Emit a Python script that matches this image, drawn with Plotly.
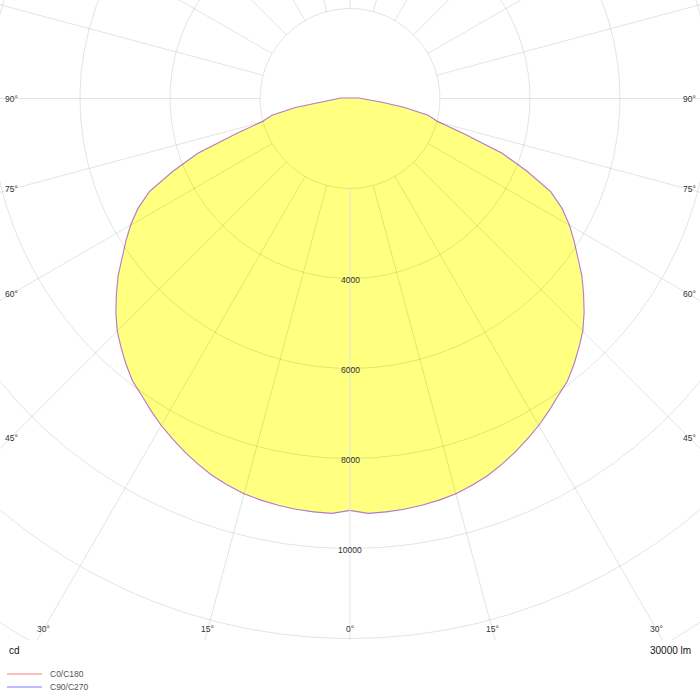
import numpy as np
import plotly.graph_objects as go

# ---------------- data ----------------
gamma_deg = [0, 2.5, 5, 7.5, 10, 12.5, 15, 17.5, 20, 22.5, 25, 27.5, 30, 32.5, 35,
             37.5, 40, 42.5, 45, 47.5, 50, 52.5, 55, 57.5, 60, 62.5, 65, 67.5, 70,
             72.5, 75, 77.5, 80, 82.5, 85, 87.5, 90]
c0_c180_cd = [9140, 9215, 9210, 9195, 9165, 9130, 9080, 9000, 8910, 8790, 8660, 8520,
              8375, 8215, 8050, 7915, 7720, 7510, 7300, 7040, 6760, 6480, 6165, 5890,
              5610, 5300, 4910, 4250, 3590, 2650, 2000, 1770, 1230, 690, 340, 250, 200]
c90_c270_cd = [9140, 9215, 9210, 9195, 9165, 9130, 9080, 9000, 8910, 8790, 8660, 8520,
               8375, 8215, 8050, 7915, 7720, 7510, 7300, 7040, 6760, 6480, 6165, 5890,
               5610, 5300, 4910, 4250, 3590, 2650, 2000, 1770, 1230, 690, 340, 250, 200]

ring_values = [2000, 4000, 6000, 8000, 10000, 12000, 14000, 16000]
ring_label_values = [4000, 6000, 8000, 10000]
spoke_angles = list(range(0, 360, 15))
angle_tick_values = [0, 15, 30, 45, 60, 75, 90]
angle_tick_labels = ["0°", "15°", "30°", "45°", "60°", "75°", "90°"]
series_names = ["C0/C180", "C90/C270"]
unit_label = "cd"
flux_label = "30000 lm"

# ---------------- geometry helpers ----------------
K = 2000.0 / 90.0            # cd per pixel
X_HALF = 350 * K
Y_TOP = 98.5 * K
Y_BOT = -541.5 * K
INSET = 11 * K


def curve_xy(right_vals, left_vals):
    g = np.radians(gamma_deg)
    rv = np.array(right_vals, float)
    lv = np.array(left_vals, float)
    xl = -lv[::-1] * np.sin(g[::-1])
    yl = -lv[::-1] * np.cos(g[::-1])
    xr = rv * np.sin(g)
    yr = -rv * np.cos(g)
    x = np.concatenate([xl, xr[1:], xl[:1]])
    y = np.concatenate([yl, yr[1:], yl[:1]])
    return x, y


fig = go.Figure()

# light curves (drawn first, the fill covers their inner half)
line_cols = ["rgba(255,0,0,0.3)", "rgba(0,0,255,0.3)"]
for name, vals, col in zip(series_names, [c0_c180_cd, c90_c270_cd], line_cols):
    x, y = curve_xy(vals, vals)
    fig.add_trace(go.Scatter(x=x, y=y, mode="lines", name=name,
                             line=dict(color=col, width=2.2),
                             hoverinfo="skip", showlegend=False))

# yellow fill
xf, yf = curve_xy(c0_c180_cd, c0_c180_cd)
fig.add_trace(go.Scatter(x=xf, y=yf, mode="lines", fill="toself", fillcolor="#ffff80",
                         line=dict(width=0, color="rgba(0,0,0,0)"),
                         hoverinfo="skip", showlegend=False))

# grid circles
th = np.linspace(0, 2 * np.pi, 721)
cx, cy = [], []
for r in ring_values:
    cx += list(r * np.sin(th)) + [None]
    cy += list(-r * np.cos(th)) + [None]
fig.add_trace(go.Scatter(x=cx, y=cy, mode="lines",
                         line=dict(color="rgba(0,0,0,0.11)", width=1),
                         hoverinfo="skip", showlegend=False))

# grid spokes
sx, sy = [], []
r0, r1 = ring_values[0], 20000
for a in spoke_angles:
    if a == 0:
        continue
    t = np.radians(a)
    sx += [r0 * np.sin(t), r1 * np.sin(t), None]
    sy += [-r0 * np.cos(t), -r1 * np.cos(t), None]
fig.add_trace(go.Scatter(x=sx, y=sy, mode="lines",
                         line=dict(color="rgba(0,0,0,0.11)", width=1),
                         hoverinfo="skip", showlegend=False))
fig.add_trace(go.Scatter(x=[0, 0], y=[-r0, -r1], mode="lines",
                         line=dict(color="rgba(228,228,228,0.8)", width=1.2),
                         hoverinfo="skip", showlegend=False))

annotations = []
shapes = []
FONT = "Liberation Sans, Arial, sans-serif"
small = dict(family=FONT, size=8.5, color="#333")

# radial value labels
for v in ring_label_values:
    annotations.append(dict(x=0, y=-v, xref="x", yref="y", text=str(v),
                            showarrow=False, font=small, xanchor="center",
                            yanchor="middle", yshift=-1.5))

# angle labels at an inset rectangle
for a, lab in zip(angle_tick_values, angle_tick_labels):
    t = np.radians(a)
    for side in ([1] if a == 0 else [-1, 1]):
        dx, dy = side * np.sin(t), -np.cos(t)
        cands = []
        if abs(dx) > 1e-9:
            cands.append((X_HALF - INSET) / abs(dx))
        if abs(dy) > 1e-9:
            cands.append((-Y_BOT - INSET) / abs(dy))
        d = min(cands)
        annotations.append(dict(x=d * dx, y=d * dy, xref="x", yref="y", text=lab,
                                showarrow=False, font=small, xanchor="center",
                                yanchor="middle"))

big = dict(family=FONT, size=10, color="#111")
annotations.append(dict(x=7 / 700, y=1 - 650 / 700, xref="paper", yref="paper",
                        text=unit_label, showarrow=False, font=big,
                        xanchor="left", yanchor="middle"))
annotations.append(dict(x=693 / 700, y=1 - 650 / 700, xref="paper", yref="paper",
                        text=flux_label, showarrow=False, font=big,
                        xanchor="right", yanchor="middle"))

# compact legend (key lines + names)
legend_cols = ["rgb(255,190,190)", "rgb(190,190,255)"]
for i, (name, col) in enumerate(zip(series_names, legend_cols)):
    yy = 1 - (674 + 13 * i) / 700
    shapes.append(dict(type="line", xref="paper", yref="paper",
                       x0=7 / 700, x1=42 / 700, y0=yy, y1=yy,
                       line=dict(color=col, width=2)))
    annotations.append(dict(x=48 / 700, y=yy, xref="paper", yref="paper",
                            text=name, showarrow=False,
                            font=dict(family=FONT, size=8.5, color="#555"),
                            xanchor="left", yanchor="middle"))

fig.update_layout(
    width=700, height=700,
    margin=dict(l=0, r=0, t=0, b=0),
    paper_bgcolor="white", plot_bgcolor="white",
    xaxis=dict(range=[-X_HALF, X_HALF], visible=False, domain=[0, 1],
               fixedrange=True),
    yaxis=dict(range=[Y_BOT, Y_TOP], visible=False, domain=[60 / 700, 1],
               fixedrange=True),
    showlegend=False,
    annotations=annotations,
    shapes=shapes,
)

fig.write_html("out.html",
               config={"displayModeBar": False, "staticPlot": True},
               post_script="document.body.style.margin='0px';"
                           "document.body.style.overflow='hidden';")
